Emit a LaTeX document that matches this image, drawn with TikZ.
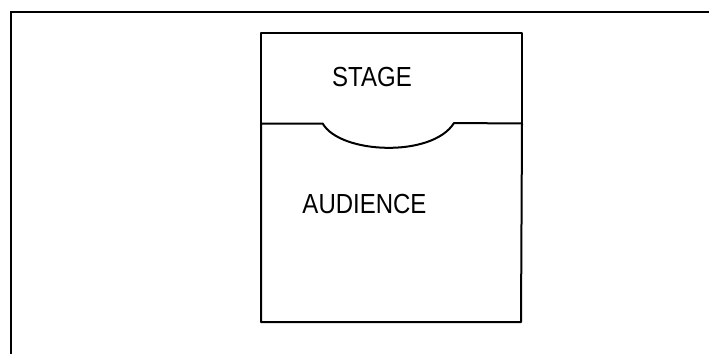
\documentclass[tikz,border=0pt]{standalone}
\usepackage{fontspec}
\setmainfont{Liberation Sans}
\usepackage{tikz}
\usetikzlibrary{positioning}

\begin{document}
\begin{tikzpicture}[
  x=1pt, y=-1pt,
  frame/.style={draw=black, line width=1.5pt},
  wall/.style={draw=black, line width=2pt, line join=round},
  lbl/.style={font=\fontsize{24}{24}\selectfont, inner sep=0pt, yscale=1.15}]
  \useasboundingbox (0,0) rectangle (709,354);
  % outer frame (only top and left edges show)
  \draw[frame] (11,354) -- (11,12) -- (709,12);
  % stage and hall
  \coordinate (nw) at (261,33);
  \coordinate (ne) at (522,33);
  \coordinate (sw) at (261,322);
  \coordinate (se) at (521,322);
  \coordinate (wl) at (261,123.5);
  \coordinate (wr) at (522,123.5);
  \coordinate (al) at (322.7,123.5);
  \coordinate (ar) at (454,123);
  \draw[wall] (wl) -- (nw) -- (ne) -- (wr);
  \draw[wall] (wl) -- (sw) -- (se) -- (wr);
  \draw[wall] (wl) -- (al) .. controls (340,154) and (432,158) .. (ar) -- (wr);
  \node[lbl] (stage)    at (372,77)  {STAGE};
  \node[lbl] (audience) at (364.5,204) {AUDIENCE};
\end{tikzpicture}
\end{document}
